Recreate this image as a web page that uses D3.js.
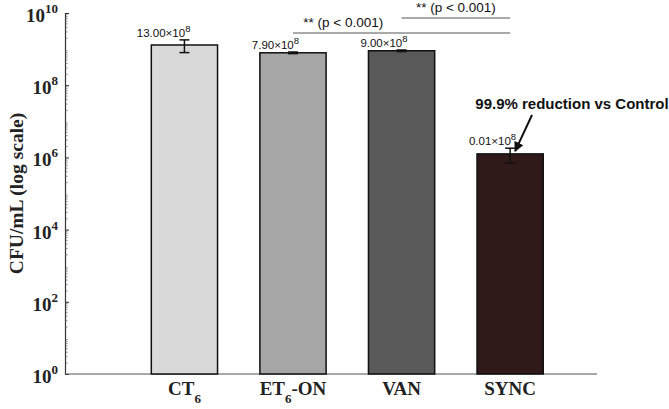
<!DOCTYPE html>
<html>
<head>
<meta charset="utf-8">
<script src="https://cdn.jsdelivr.net/npm/d3@7"></script>
<style>
  body { margin: 0; background: #fff; }
  svg { display: block; }
</style>
</head>
<body>
<div id="chart"></div>
<script>
// Chart data
const groups = ['CT', 'ET', 'VAN', 'SYNC'];
const groupSubs = ['6', '6', '', ''];
const groupSuffix = ['', '-ON', '', ''];
const means = [13.0e8, 7.9e8, 9.0e8, 0.0125e8];
const errors = [5.0e8, 0.4e8, 0.45e8, 0.55e6];
const valueLabels = ['13.00', '7.90', '9.00', '0.01'];
const barColors = ['#d9d9d9', '#a6a6a6', '#595959', '#2f1919'];
const yTickExps = [0, 2, 4, 6, 8, 10];

const width = 669, height = 409;
const margin = { top: 13, right: 72, bottom: 35, left: 65 };

const svg = d3.select('#chart').append('svg')
    .attr('width', width)
    .attr('height', height);

// Scales
const x = d3.scaleLinear()
    .domain([-0.1, 4.8])
    .range([margin.left, width - margin.right]);
const y = d3.scaleLog()
    .domain([1, 1e10])
    .range([height - margin.bottom, margin.top]);
const barW = 0.61 * (x(1) - x(0));

const serif = '"Liberation Serif", "Times New Roman", serif';
const sans = '"Liberation Sans", Arial, sans-serif';

// Y axis: majors labelled with superscripts, minors inside
const yAxis = d3.axisLeft(y)
    .tickValues(yTickExps.map(e => Math.pow(10, e)))
    .tickSize(-4)
    .tickFormat('');
const yG = svg.append('g')
    .attr('transform', `translate(${margin.left},0)`)
    .call(yAxis);
yG.select('.domain').attr('stroke', '#333').attr('stroke-width', 1.2);
yG.selectAll('.tick line').attr('stroke', '#333');

const minors = [];
for (let e = 0; e < 10; e++) {
    for (let m = 2; m <= 9; m++) minors.push(m * Math.pow(10, e));
}
yG.selectAll('.minor')
    .data(minors)
    .enter().append('line')
    .attr('class', 'minor')
    .attr('x1', 0).attr('x2', 2.5)
    .attr('y1', d => y(d)).attr('y2', d => y(d))
    .attr('stroke', '#555')
    .attr('stroke-width', 0.7);

yTickExps.forEach(e => {
    const t = svg.append('text')
        .attr('x', margin.left - 7)
        .attr('y', y(Math.pow(10, e)) + 9)
        .attr('text-anchor', 'end')
        .style('font-family', serif)
        .style('font-weight', 'bold')
        .style('font-size', '19px')
        .style('fill', '#222');
    t.append('tspan').text('10');
    t.append('tspan').attr('dy', -9).style('font-size', '13px').text(e);
});

// Y axis title
svg.append('text')
    .attr('transform', `translate(23, ${y(1e5)}) rotate(-90)`)
    .attr('text-anchor', 'middle')
    .style('font-family', serif)
    .style('font-weight', 'bold')
    .style('font-size', '19.5px')
    .style('fill', '#222')
    .text('CFU/mL (log scale)');

// X axis line
svg.append('line')
    .attr('x1', margin.left).attr('x2', width - margin.right)
    .attr('y1', y(1)).attr('y2', y(1))
    .attr('stroke', '#555')
    .attr('stroke-width', 1.2);

// Bars
svg.selectAll('.bar')
    .data(means)
    .enter().append('rect')
    .attr('class', 'bar')
    .attr('x', (d, i) => x(i + 1) - barW / 2)
    .attr('y', d => y(d))
    .attr('width', barW)
    .attr('height', d => y(1) - y(d))
    .attr('fill', (d, i) => barColors[i])
    .attr('stroke', '#111')
    .attr('stroke-width', 1.5);

// Error bars
means.forEach((m, i) => {
    const cx = x(i + 1);
    const hi = y(m + errors[i]), lo = y(m - errors[i]);
    const g = svg.append('g').attr('stroke', '#111').attr('stroke-width', 1.5);
    g.append('line').attr('x1', cx).attr('x2', cx).attr('y1', hi).attr('y2', lo);
    g.append('line').attr('x1', cx - 5).attr('x2', cx + 5).attr('y1', hi).attr('y2', hi);
    g.append('line').attr('x1', cx - 5).attr('x2', cx + 5).attr('y1', lo).attr('y2', lo);

    // value label
    const t = svg.append('text')
        .attr('x', cx + 6)
        .attr('y', hi - 3)
        .attr('text-anchor', 'end')
        .style('font-family', sans)
        .style('font-size', '11.5px')
        .style('fill', '#111');
    t.append('tspan').text(valueLabels[i] + '\u00d710');
    t.append('tspan').attr('dy', -5).style('font-size', '9.5px').text('8');
});

// X tick labels with subscripts
groups.forEach((gname, i) => {
    const t = svg.append('text')
        .attr('x', x(i + 1))
        .attr('y', 395)
        .attr('text-anchor', 'middle')
        .style('font-family', serif)
        .style('font-weight', 'bold')
        .style('font-size', '19px')
        .style('fill', '#222');
    t.append('tspan').text(gname);
    if (groupSubs[i]) {
        t.append('tspan').attr('dy', 8).style('font-size', '13px').text(groupSubs[i]);
        if (groupSuffix[i]) t.append('tspan').attr('dy', -8).text(groupSuffix[i]);
    }
});

// Significance brackets
const brackets = [
    { from: 2, to: 4, yPos: 33, textX: (x(2) + x(3)) / 2 - 4 },
    { from: 3, to: 4, yPos: 18, textX: (x(3) + x(4)) / 2 }
];
brackets.forEach(b => {
    svg.append('line')
        .attr('x1', x(b.from)).attr('x2', x(b.to))
        .attr('y1', b.yPos).attr('y2', b.yPos)
        .attr('stroke', '#555').attr('stroke-width', 1);
    svg.append('text')
        .attr('x', b.textX)
        .attr('y', b.yPos - 6)
        .attr('text-anchor', 'middle')
        .style('font-family', sans)
        .style('font-size', '13.5px')
        .style('fill', '#111')
        .text('** (p < 0.001)');
});

// Annotation
svg.append('defs').append('marker')
    .attr('id', 'arrow')
    .attr('viewBox', '0 0 10 10')
    .attr('refX', 9).attr('refY', 5)
    .attr('markerWidth', 5).attr('markerHeight', 5)
    .attr('orient', 'auto')
    .append('path')
    .attr('d', 'M0,0 L10,5 L0,10 Z')
    .attr('fill', '#111');

const tipY = y(means[3] + errors[3]);
svg.append('line')
    .attr('x1', 532).attr('y1', 115)
    .attr('x2', x(4) + 5).attr('y2', tipY + 3)
    .attr('stroke', '#111')
    .attr('stroke-width', 2)
    .attr('marker-end', 'url(#arrow)');

svg.append('text')
    .attr('x', 572)
    .attr('y', 109)
    .attr('text-anchor', 'middle')
    .style('font-family', sans)
    .style('font-weight', 'bold')
    .style('font-size', '15px')
    .style('fill', '#111')
    .text('99.9% reduction vs Control');
</script>
</body>
</html>
